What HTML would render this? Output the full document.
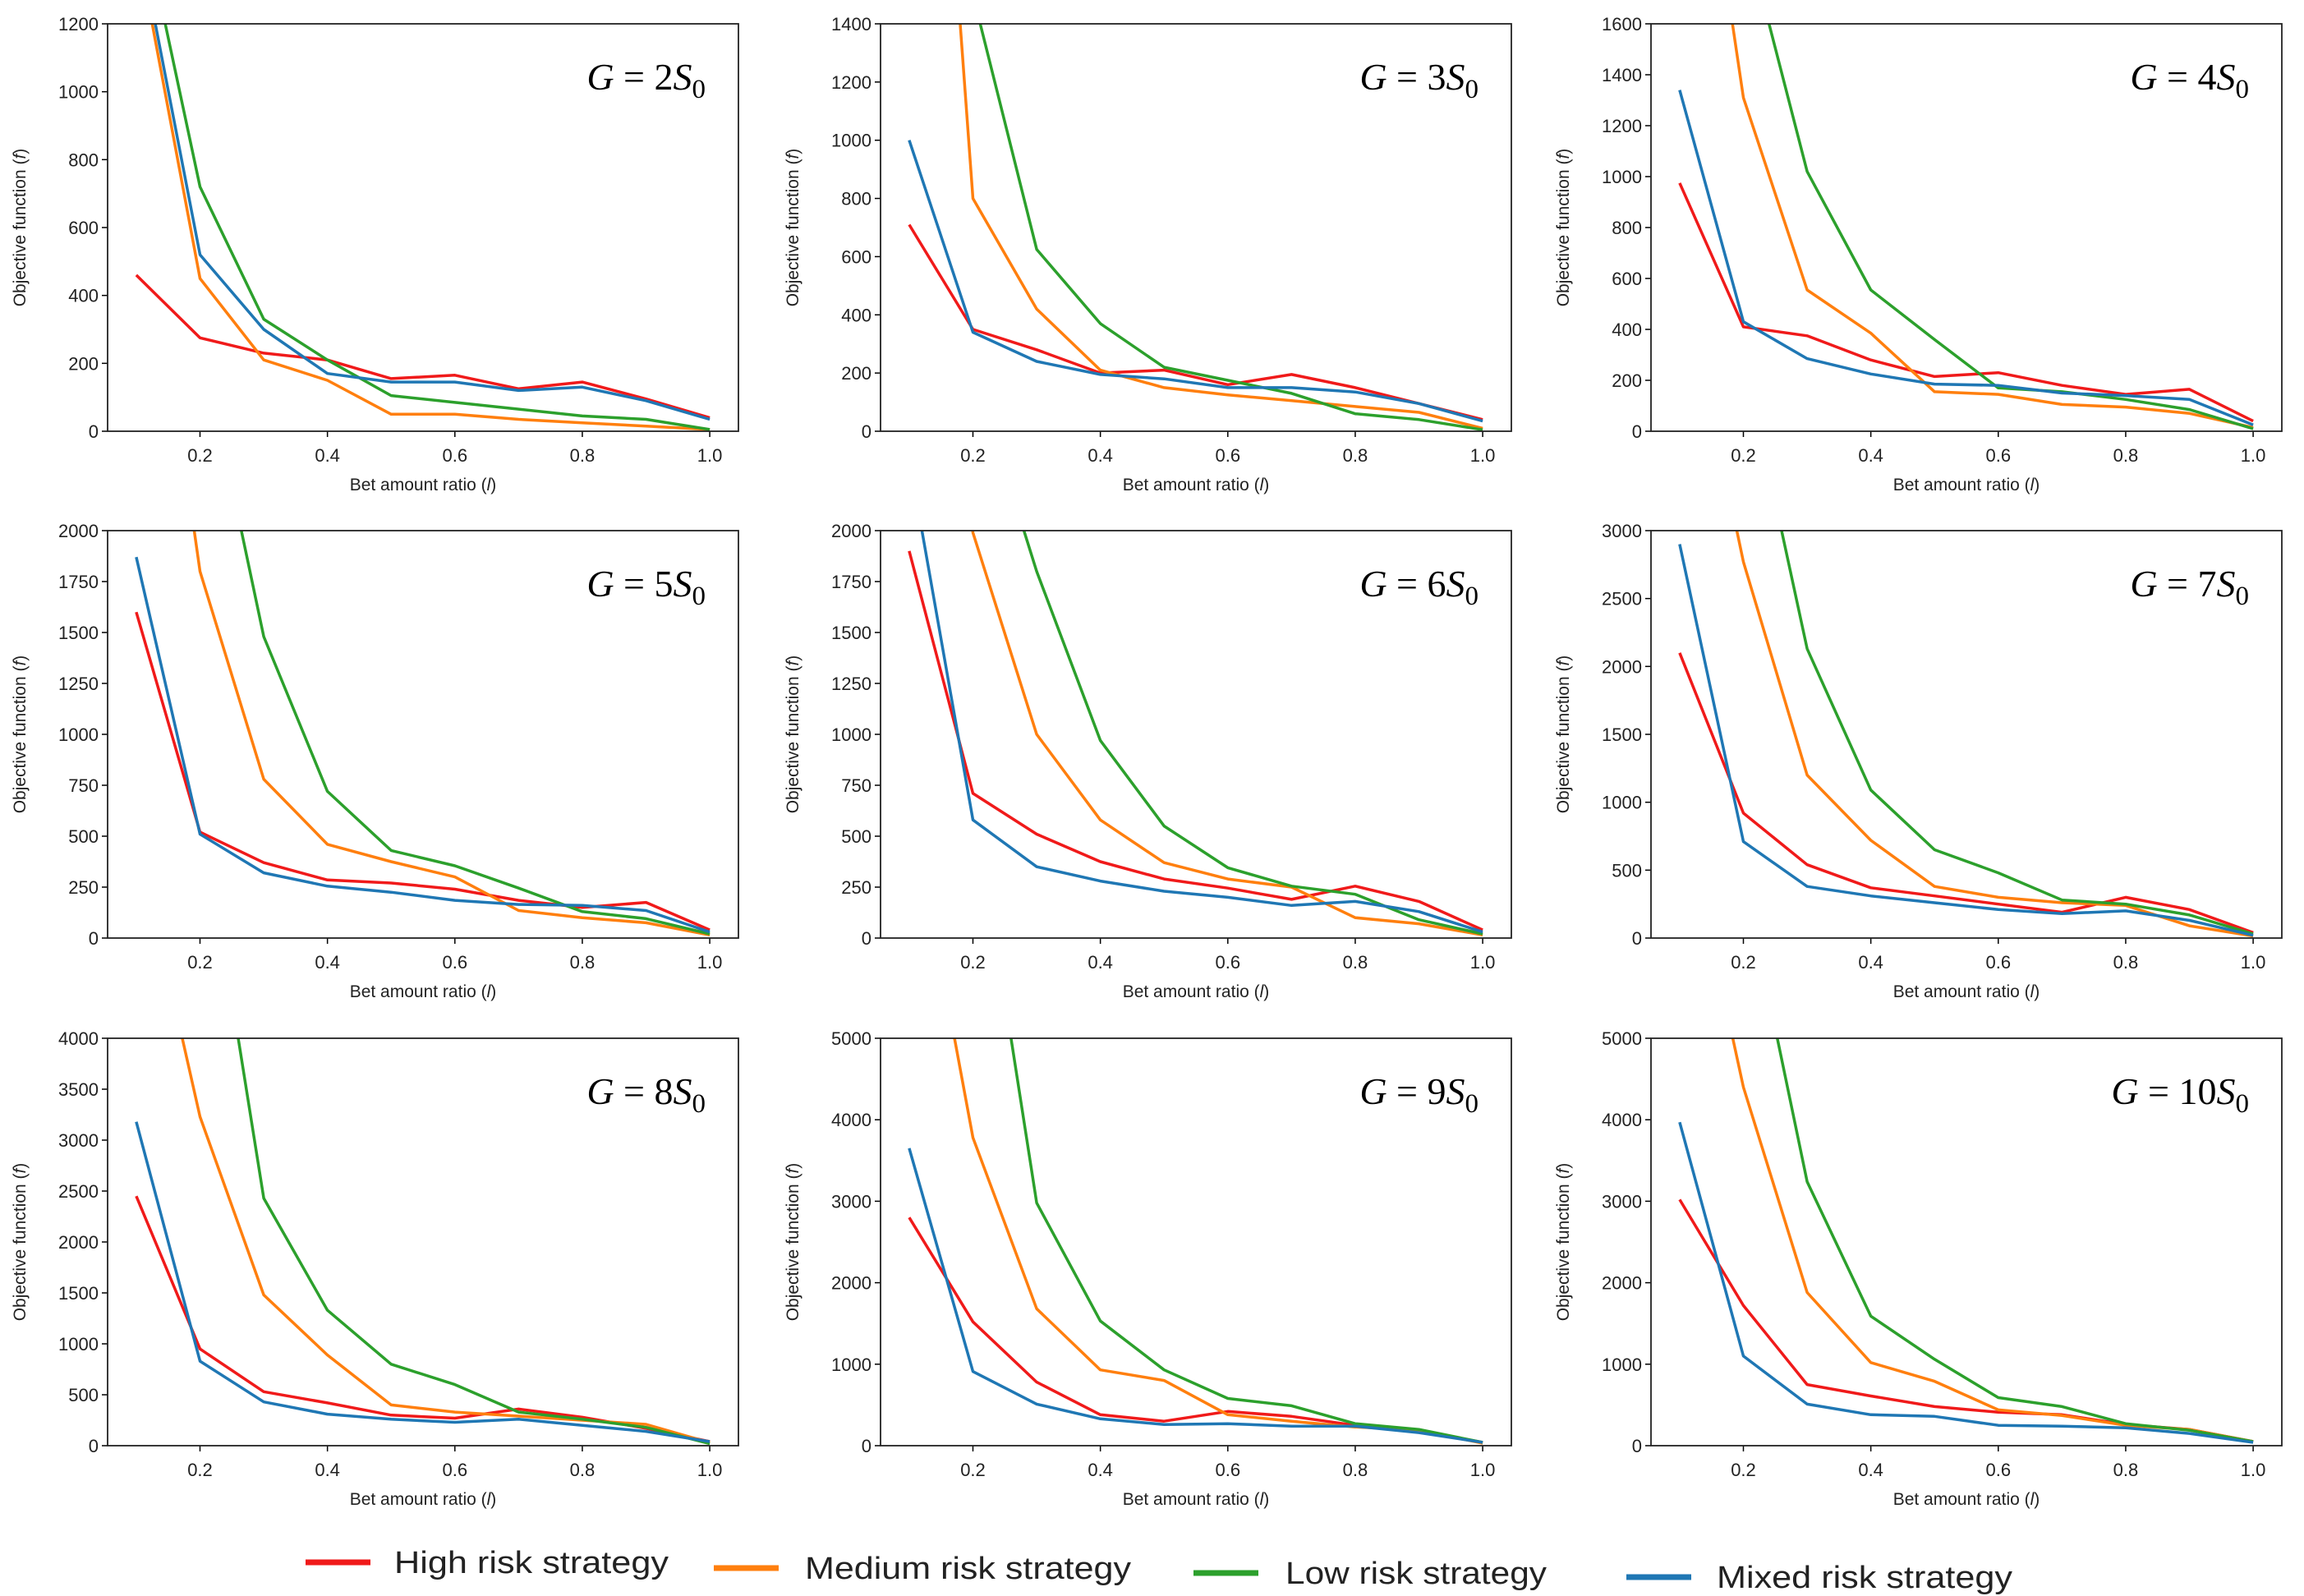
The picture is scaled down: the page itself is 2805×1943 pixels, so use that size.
<!DOCTYPE html>
<html><head><meta charset="utf-8"><style>
html,body{margin:0;padding:0;background:#fff;}
svg{display:block;font-family:"Liberation Sans",sans-serif;}
</style></head><body>
<svg id="fig" width="2805" height="1943" viewBox="0 0 2805 1943" xmlns="http://www.w3.org/2000/svg"></svg>
<script>
const xValues=[0.1,0.2,0.3,0.4,0.5,0.6,0.7,0.8,0.9,1.0];
const xTicks=[0.2,0.4,0.6,0.8,1.0];
const panelLabels=["2","3","4","5","6","7","8","9","10"];
const yMaxes=[1200,1400,1600,2000,2000,3000,4000,5000,5000];
const yTickSteps=[200,200,200,250,250,500,500,1000,1000];
const seriesNames=["High risk strategy","Medium risk strategy","Low risk strategy","Mixed risk strategy"];
const seriesColors=["#f01a1a","#ff7f0e","#2ca02c","#1f77b4"];
const highRisk=[
[460,275,230,210,155,165,125,145,95,40],
[710,350,280,200,210,160,195,150,95,40],
[975,410,375,280,215,230,180,145,165,40],
[1600,520,370,285,270,240,185,150,175,40],
[1900,710,510,375,290,245,190,255,180,40],
[2100,920,540,370,310,250,190,300,210,40],
[2450,950,530,420,300,270,360,280,170,40],
[2800,1520,780,380,300,420,360,250,180,40],
[3020,1720,750,610,480,410,380,260,200,50]];
const mediumRisk=[
[1450,450,210,150,50,50,35,25,15,5],
[3800,800,420,210,150,125,105,85,65,10],
[3000,1310,555,385,155,145,105,95,70,15],
[4000,1800,780,460,375,300,135,100,75,15],
[4000,1990,1000,580,370,290,250,100,70,15],
[5000,2770,1200,720,380,300,260,240,90,15],
[6000,3230,1480,890,400,330,290,250,210,30],
[8000,3780,1680,930,800,380,300,230,190,30],
[8000,4400,1880,1020,790,440,370,250,200,50]];
const lowRisk=[
[1600,720,330,210,105,85,65,45,35,5],
[3000,1500,625,370,220,175,130,60,40,5],
[3000,1990,1020,555,360,170,155,125,85,10],
[5000,2960,1480,720,430,355,245,130,95,20],
[5000,2800,1800,970,550,345,255,215,90,20],
[7000,4300,2130,1090,650,480,280,250,170,30],
[9000,6350,2430,1330,800,600,330,260,180,20],
[12000,8000,2980,1530,930,580,490,270,200,40],
[11000,7000,3240,1590,1060,590,480,270,190,50]];
const mixedRisk=[
[1490,520,300,170,145,145,120,130,90,35],
[1000,340,240,195,180,150,150,135,95,35],
[1340,430,285,225,185,180,150,140,125,25],
[1870,510,320,255,225,185,165,160,135,30],
[2355,580,350,280,230,200,160,180,130,30],
[2900,710,380,310,260,210,180,200,130,20],
[3180,830,430,310,260,230,260,200,140,40],
[3650,910,510,330,260,270,240,240,160,40],
[3970,1100,510,380,360,250,240,220,150,40]];
const allSeries=[highRisk,mediumRisk,lowRisk,mixedRisk];

const NS="http://www.w3.org/2000/svg";
const svg=document.getElementById("fig");
function mk(tag,attrs,parent,text){const e=document.createElementNS(NS,tag);for(const k in attrs)e.setAttribute(k,attrs[k]);if(text!==undefined)e.textContent=text;(parent||svg).appendChild(e);return e;}
const colLeft=[131,1072,2010], rowTop=[29,646,1264], W=768, H=496;
const defs=mk("defs",{});
for(let p=0;p<9;p++){
  const L=colLeft[p%3], T=rowTop[Math.floor(p/3)];
  const xmin=0.055,xmax=1.045,ymax=yMaxes[p];
  const sx=v=>L+(v-xmin)/(xmax-xmin)*W;
  const sy=v=>T+H-(v/ymax)*H;
  const g=mk("g",{});
  
  
  const cp=mk("clipPath",{id:"c"+p},defs);
  mk("rect",{x:L,y:T,width:W,height:H},cp);
  for(let v=0;v<=ymax+1e-6;v+=yTickSteps[p]){
    const y=sy(v);
    mk("line",{x1:L-7,x2:L,y1:y,y2:y,stroke:"#000","stroke-width":1.5},g);
    const t=mk("text",{x:L-11,y:y+8,"text-anchor":"end","font-size":22,fill:"#222"},g,String(v));
    
    
  }
  for(const v of xTicks){
    const x=sx(v);
    mk("line",{x1:x,x2:x,y1:T+H,y2:T+H+7,stroke:"#000","stroke-width":1.5},g);
    const t=mk("text",{x:x,y:T+H+37,"text-anchor":"middle","font-size":22,fill:"#222"},g,v.toFixed(1));
    
    
  }
  const lg=mk("g",{"clip-path":"url(#c"+p+")"},g);
  allSeries.forEach((s,si)=>{
    const pts=xValues.map((xv,i)=>sx(xv).toFixed(1)+","+sy(s[p][i]).toFixed(1)).join(" ");
    const pl=mk("polyline",{points:pts,fill:"none",stroke:seriesColors[si],"stroke-width":3.5,"stroke-linejoin":"round"},lg);
    
    
  });
  const fr=mk("rect",{x:L,y:T,width:W,height:H,fill:"none",stroke:"#222","stroke-width":1.8},g);
  
  
  const xl=mk("text",{x:L+W/2,y:T+H+72,"text-anchor":"middle","font-size":21,fill:"#222"},g);
  
  
  xl.innerHTML='Bet amount ratio (<tspan font-style="italic">l</tspan>)';
  const yl=mk("text",{transform:"translate("+(L-100)+","+(T+H/2)+") rotate(-90)","text-anchor":"middle","font-size":21,fill:"#222"},g);
  
  
  yl.innerHTML='Objective function (<tspan font-style="italic">f</tspan>)';
  const tt=mk("text",{x:L+W-40,y:T+80,"text-anchor":"end","font-size":46,fill:"#000","font-family":"Liberation Serif, serif"},g);
  
  
  tt.innerHTML='<tspan font-style="italic">G</tspan> = '+panelLabels[p]+'<tspan font-style="italic">S</tspan><tspan font-size="33" dy="10">0</tspan>';
}
const legX=[372,869,1453,1980], legY=[1902,1909,1915,1920], legTX=[480,980,1565,2090], legW=[334,397,318,360];
const leg=mk("g",{});


seriesNames.forEach((n,i)=>{
  const e=mk("g",{},leg);
  
  
  mk("line",{x1:legX[i],x2:legX[i]+79,y1:legY[i],y2:legY[i],stroke:seriesColors[i],"stroke-width":7},e);
  mk("text",{x:legTX[i],y:legY[i]+13,"font-size":38,fill:"#222",textLength:legW[i],lengthAdjust:"spacingAndGlyphs"},e,n);
});
</script>
</body></html>
